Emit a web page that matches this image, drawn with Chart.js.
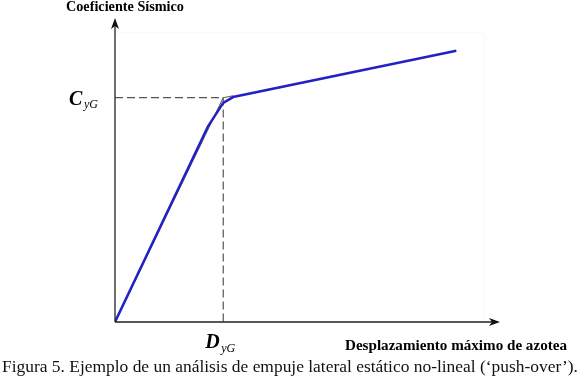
<!DOCTYPE html>
<html>
<head>
<meta charset="utf-8">
<script src="https://cdn.jsdelivr.net/npm/chart.js@4.4.1/dist/chart.umd.min.js"></script>
<style>
  html, body { margin: 0; padding: 0; background: #fff; }
  #wrap { width: 580px; height: 381px; position: relative; }
</style>
</head>
<body>
<div id="wrap"><canvas id="myChart" width="580" height="381"></canvas></div>
<script>
// curva de capacidad (push-over)
const despl = [0, 0.0151, 0.0176, 0.0192, 0.0555];
const coef = [0, 0.0304, 0.0341, 0.0350, 0.0422];

// idealizacion bilineal
const desplBil = [0, 0.0176, 0.0192];
const coefBil = [0, 0.0349, 0.0352];

const DyG = 0.0176;
const CyG = 0.0349;

const tituloY = 'Coeficiente Sísmico';
const tituloX = 'Desplazamiento máximo de azotea';
const pie = 'Figura 5. Ejemplo de un análisis de empuje lateral estático no-lineal (‘push-over’).';

const SERIF = '"Liberation Serif", "Times New Roman", serif';

const toXY = (xs, ys) => xs.map((x, i) => ({ x: x, y: ys[i] }));

// escribe un texto ajustando el tamaño a un ancho dado
function fitText(ctx, txt, style, width, x, y) {
  ctx.font = style + ' 20px ' + SERIF;
  const s = 20 * width / ctx.measureText(txt).width;
  ctx.font = style + ' ' + s.toFixed(2) + 'px ' + SERIF;
  ctx.fillText(txt, x, y);
}

const extras = {
  id: 'extras',
  beforeDatasetsDraw(chart) {
    const ctx = chart.ctx;
    const xs = chart.scales.x, ys = chart.scales.y;
    const x0 = xs.getPixelForValue(0), y0 = ys.getPixelForValue(0);
    const xd = xs.getPixelForValue(DyG), yc = ys.getPixelForValue(CyG);
    ctx.save();
    // marco tenue
    ctx.strokeStyle = '#f7f7f7';
    ctx.lineWidth = 1;
    ctx.beginPath();
    ctx.moveTo(x0, ys.getPixelForValue(0.045));
    ctx.lineTo(xs.getPixelForValue(0.06), ys.getPixelForValue(0.045));
    ctx.lineTo(xs.getPixelForValue(0.06), y0);
    ctx.stroke();
    // lineas de fluencia
    ctx.strokeStyle = '#555';
    ctx.lineWidth = 1.2;
    ctx.setLineDash([8, 4]);
    ctx.beginPath();
    ctx.moveTo(x0, yc);
    ctx.lineTo(xd, yc);
    ctx.lineTo(xd, y0);
    ctx.stroke();
    ctx.restore();
  },
  afterDraw(chart) {
    const ctx = chart.ctx;
    const xs = chart.scales.x, ys = chart.scales.y;
    const x0 = xs.getPixelForValue(0), y0 = ys.getPixelForValue(0);
    const xd = xs.getPixelForValue(DyG), yc = ys.getPixelForValue(CyG);
    ctx.save();
    // ejes con flecha
    ctx.strokeStyle = '#222';
    ctx.fillStyle = '#111';
    ctx.lineWidth = 1.3;
    ctx.beginPath();
    ctx.moveTo(x0, y0);
    ctx.lineTo(x0, 24);
    ctx.moveTo(x0, y0);
    ctx.lineTo(494, y0);
    ctx.stroke();
    ctx.beginPath();
    ctx.moveTo(x0, 18);
    ctx.lineTo(x0 - 4, 29);
    ctx.lineTo(x0, 26);
    ctx.lineTo(x0 + 4, 29);
    ctx.closePath();
    ctx.fill();
    ctx.beginPath();
    ctx.moveTo(500, y0);
    ctx.lineTo(489, y0 - 4);
    ctx.lineTo(492, y0);
    ctx.lineTo(489, y0 + 4);
    ctx.closePath();
    ctx.fill();

    ctx.fillStyle = '#000';
    ctx.textBaseline = 'alphabetic';
    fitText(ctx, tituloY, 'bold', 118, 66, 11);
    fitText(ctx, tituloX, 'bold', 222, 345, 350);

    // C_yG y D_yG
    ctx.font = 'italic bold 20px ' + SERIF;
    ctx.fillText('C', 69, yc + 7);
    ctx.fillText('D', xd - 18, 348);
    ctx.font = 'italic 12px ' + SERIF;
    ctx.fillText('yG', 84, yc + 10);
    ctx.fillText('yG', xd - 2, 352);

    // pie de figura
    ctx.fillStyle = '#111';
    fitText(ctx, pie, 'normal', 576, 2, 372);
    ctx.restore();
  }
};

new Chart('myChart', {
  type: 'line',
  data: {
    datasets: [
      {
        label: 'Curva de capacidad',
        data: toXY(despl, coef),
        borderColor: '#2222c4',
        borderWidth: 2.5,
        pointRadius: 0,
        fill: false,
        tension: 0,
        order: 1
      },
      {
        label: 'Bilineal',
        data: toXY(desplBil, coefBil),
        borderColor: '#666',
        borderWidth: 1.2,
        pointRadius: 0,
        fill: false,
        tension: 0,
        order: 2
      }
    ]
  },
  options: {
    responsive: false,
    animation: false,
    layout: { padding: { left: 115, right: 96, top: 27, bottom: 59 } },
    plugins: { legend: { display: false }, tooltip: { enabled: false } },
    scales: {
      x: { type: 'linear', min: 0, max: 0.06, display: false },
      y: { type: 'linear', min: 0, max: 0.0459, display: false }
    }
  },
  plugins: [extras]
});
</script>
</body>
</html>
